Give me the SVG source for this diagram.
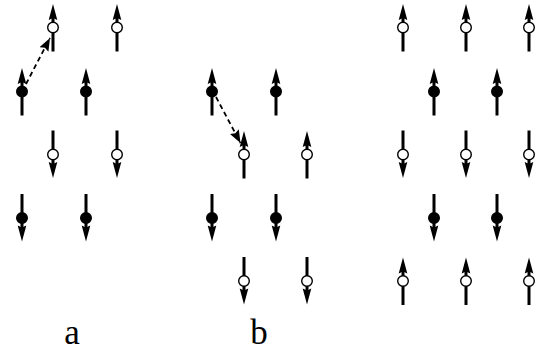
<svg xmlns="http://www.w3.org/2000/svg" xmlns:xlink="http://www.w3.org/1999/xlink" width="537" height="354" viewBox="0 0 537 354">
<style>
.shaft{stroke:#000;stroke-width:3;fill:none}
.head{fill:#000;stroke:none}
.open{fill:#fff;stroke:#000;stroke-width:1.4}
.filled{fill:#000;stroke:#000;stroke-width:1.4}
.hop{stroke:#000;stroke-width:1.8;stroke-dasharray:5 3.5;fill:none}
.lbl{font-family:"Liberation Serif","Times New Roman",serif;font-size:35px;fill:#000;text-anchor:middle}
</style>
<defs>
<g id="upOpen"><line class="shaft" x1="0" y1="24" x2="0" y2="-10"/><polygon class="head" points="0,-23.5 4.3,-7.5 0,-9.5 -4.3,-7.5"/><circle class="open" r="5.3"/></g>
<g id="upFilled"><line class="shaft" x1="0" y1="24" x2="0" y2="-10"/><polygon class="head" points="0,-23.5 4.3,-7.5 0,-9.5 -4.3,-7.5"/><circle class="filled" r="5.3"/></g>
<g id="downOpen"><use xlink:href="#upOpen" transform="rotate(180)"/></g>
<g id="downFilled"><use xlink:href="#upFilled" transform="rotate(180)"/></g>
<marker id="ah" markerUnits="userSpaceOnUse" markerWidth="16" markerHeight="12" refX="13" refY="5" orient="auto"><polygon points="0,0 13,5 0,10 2,5" fill="#000"/></marker>
</defs>

<g id="panel-a">
<g id="a-r1-1"><use xlink:href="#upOpen" x="53" y="27.5"/></g>
<g id="a-r1-2"><use xlink:href="#upOpen" x="117" y="27.5"/></g>
<g id="a-r2-1"><use xlink:href="#upFilled" x="22" y="91.5"/></g>
<g id="a-r2-2"><use xlink:href="#upFilled" x="86" y="91.5"/></g>
<g id="a-r3-1"><use xlink:href="#downOpen" x="53" y="154.5"/></g>
<g id="a-r3-2"><use xlink:href="#downOpen" x="117" y="154.5"/></g>
<g id="a-r4-1"><use xlink:href="#downFilled" x="22" y="218"/></g>
<g id="a-r4-2"><use xlink:href="#downFilled" x="86" y="218"/></g>
</g>

<g id="panel-b">
<g id="b-r2-1"><use xlink:href="#upFilled" x="212" y="91.5"/></g>
<g id="b-r2-2"><use xlink:href="#upFilled" x="276" y="91.5"/></g>
<g id="b-r3-1"><use xlink:href="#upOpen" x="244" y="154.5"/></g>
<g id="b-r3-2"><use xlink:href="#upOpen" x="307" y="154.5"/></g>
<g id="b-r4-1"><use xlink:href="#downFilled" x="212" y="218"/></g>
<g id="b-r4-2"><use xlink:href="#downFilled" x="276" y="218"/></g>
<g id="b-r5-1"><use xlink:href="#downOpen" x="244" y="281"/></g>
<g id="b-r5-2"><use xlink:href="#downOpen" x="307" y="281"/></g>
</g>

<g id="panel-c">
<g id="c-r1-1"><use xlink:href="#upOpen" x="403" y="27.5"/></g>
<g id="c-r1-2"><use xlink:href="#upOpen" x="466" y="27.5"/></g>
<g id="c-r1-3"><use xlink:href="#upOpen" x="529" y="27.5"/></g>
<g id="c-r2-1"><use xlink:href="#upFilled" x="434" y="91.5"/></g>
<g id="c-r2-2"><use xlink:href="#upFilled" x="497" y="91.5"/></g>
<g id="c-r3-1"><use xlink:href="#downOpen" x="403" y="154.5"/></g>
<g id="c-r3-2"><use xlink:href="#downOpen" x="466" y="154.5"/></g>
<g id="c-r3-3"><use xlink:href="#downOpen" x="529" y="154.5"/></g>
<g id="c-r4-1"><use xlink:href="#downFilled" x="434" y="218"/></g>
<g id="c-r4-2"><use xlink:href="#downFilled" x="497" y="218"/></g>
<g id="c-r5-1"><use xlink:href="#upOpen" x="403" y="281"/></g>
<g id="c-r5-2"><use xlink:href="#upOpen" x="466" y="281"/></g>
<g id="c-r5-3"><use xlink:href="#upOpen" x="529" y="281"/></g>
</g>

<g id="connectors">
<line class="hop" x1="26" y1="84" x2="50" y2="38" marker-end="url(#ah)"/>
<line class="hop" x1="216" y1="97" x2="240.5" y2="143" marker-end="url(#ah)"/>
</g>

<g id="labels">
<text class="lbl" x="72" y="344">a</text>
<text class="lbl" x="259" y="344">b</text>
</g>
</svg>
